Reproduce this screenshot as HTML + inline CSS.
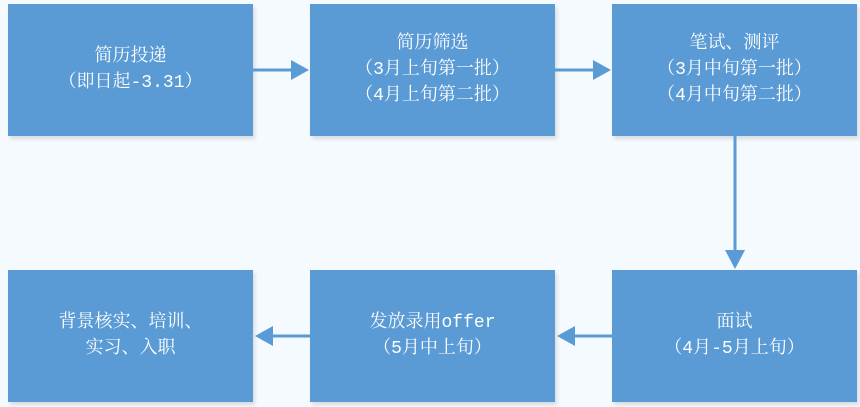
<!DOCTYPE html>
<html><head><meta charset="utf-8"><style>
html,body{margin:0;padding:0;}
body{width:860px;height:407px;background:#f5faff;position:relative;overflow:hidden;font-family:"Liberation Mono","Noto Serif CJK SC","Noto Sans CJK SC",monospace;}
.b{position:absolute;width:245px;height:132px;background:#5b9bd5;color:#fff;display:flex;align-items:center;justify-content:center;text-align:center;font-size:18px;line-height:26px;box-shadow:2px 3px 4px rgba(0,0,0,0.12);}
svg{position:absolute;left:0;top:0;}
</style></head><body>
<div class="b" style="left:8px;top:4px;">简历投递<br>（即日起-3.31）</div>
<div class="b" style="left:310px;top:4px;">简历筛选<br>（3月上旬第一批）<br>（4月上旬第二批）</div>
<div class="b" style="left:612px;top:4px;">笔试、测评<br>（3月中旬第一批）<br>（4月中旬第二批）</div>
<div class="b" style="left:612px;top:270px;">面试<br>（4月-5月上旬）</div>
<div class="b" style="left:310px;top:270px;">发放录用offer<br>（5月中上旬）</div>
<div class="b" style="left:8px;top:270px;">背景核实、培训、<br>实习、入职</div>
<svg width="860" height="407">
<g fill="#5b9bd5" stroke="#5b9bd5">
<line x1="253" y1="70" x2="293" y2="70" stroke-width="3"/>
<polygon points="291,60 309,70 291,80" stroke="none"/>
<line x1="555" y1="70" x2="595" y2="70" stroke-width="3"/>
<polygon points="593,60 611,70 593,80" stroke="none"/>
<line x1="735" y1="136" x2="735" y2="252" stroke-width="3"/>
<polygon points="725,250 735,269 745,250" stroke="none"/>
<line x1="612" y1="336" x2="574" y2="336" stroke-width="3"/>
<polygon points="575,326 557,336 575,346" stroke="none"/>
<line x1="310" y1="336" x2="272" y2="336" stroke-width="3"/>
<polygon points="273,326 255,336 273,346" stroke="none"/>
</g>
</svg>
</body></html>
